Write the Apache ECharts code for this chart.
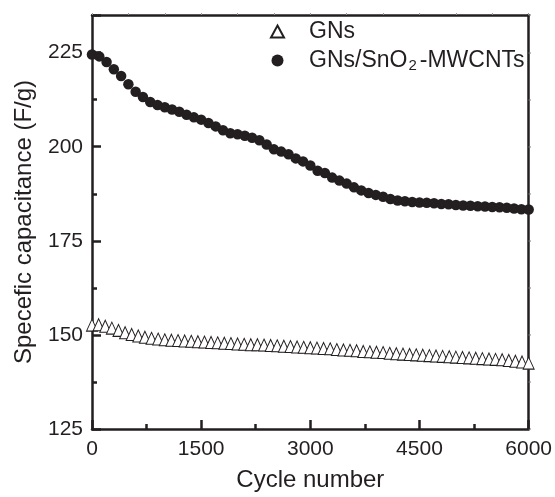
<!DOCTYPE html>
<html>
<head>
<meta charset="utf-8">
<script src="https://cdn.jsdelivr.net/npm/echarts@6/dist/echarts.min.js"></script>
<style>
  html, body { margin: 0; padding: 0; background: #fff; }
  #cycle_figure { width: 555px; height: 497px; }
</style>
</head>
<body>
<div id="cycle_figure"></div>
<script>
// cycle numbers for the composite (one point every 100 cycles)
var compCycles = [0, 100, 200, 300, 400, 500, 600, 700, 800, 900,
    1000, 1100, 1200, 1300, 1400, 1500, 1600, 1700, 1800, 1900,
    2000, 2100, 2200, 2300, 2400, 2500, 2600, 2700, 2800, 2900,
    3000, 3100, 3200, 3300, 3400, 3500, 3600, 3700, 3800, 3900,
    4000, 4100, 4200, 4300, 4400, 4500, 4600, 4700, 4800, 4900,
    5000, 5100, 5200, 5300, 5400, 5500, 5600, 5700, 5800, 5900, 6000];
var compValues = [224.5, 224.0, 222.5, 220.6, 218.8, 216.6, 214.6, 213.2, 211.9, 211.1,
    210.5, 209.9, 209.3, 208.5, 207.8, 207.2, 206.3, 205.4, 204.4, 203.6,
    203.3, 202.9, 202.4, 201.7, 200.6, 199.3, 198.7, 198.0, 196.9, 196.1,
    195.0, 193.6, 193.0, 191.8, 191.0, 190.2, 189.2, 188.4, 187.7, 187.2,
    186.7, 186.1, 185.7, 185.5, 185.3, 185.2, 185.1, 185.0, 184.8, 184.7,
    184.5, 184.4, 184.3, 184.2, 184.1, 184.0, 183.9, 183.8, 183.6, 183.4, 183.3];

// cycle numbers for GNs (a bit denser)
var gnsCycles = [0, 91, 182, 273, 364, 455, 545, 636, 727, 818, 909,
    1000, 1091, 1182, 1273, 1364, 1455, 1545, 1636, 1727, 1818, 1909,
    2000, 2091, 2182, 2273, 2364, 2455, 2545, 2636, 2727, 2818, 2909,
    3000, 3091, 3182, 3273, 3364, 3455, 3545, 3636, 3727, 3818, 3909,
    4000, 4091, 4182, 4273, 4364, 4455, 4545, 4636, 4727, 4818, 4909,
    5000, 5091, 5182, 5273, 5364, 5455, 5545, 5636, 5727, 5818, 5909, 6000];
var gnsValues = [152.6, 152.7, 152.3, 151.8, 151.2, 150.6, 150.1, 149.7, 149.4, 149.1, 148.9,
    148.7, 148.6, 148.5, 148.4, 148.3, 148.2, 148.1, 148.0, 147.9, 147.8, 147.7,
    147.6, 147.5, 147.4, 147.4, 147.3, 147.2, 147.1, 147.0, 146.9, 146.8, 146.7,
    146.6, 146.5, 146.4, 146.3, 146.1, 146.0, 145.9, 145.8, 145.6, 145.5, 145.4,
    145.3, 145.1, 145.0, 144.9, 144.8, 144.7, 144.6, 144.5, 144.4, 144.3, 144.2,
    144.1, 144.0, 143.9, 143.8, 143.7, 143.6, 143.5, 143.4, 143.2, 143.0, 142.8, 142.5];

var xTicks = [0, 1500, 3000, 4500, 6000];
var yTicks = [125, 150, 175, 200, 225];

var ink = '#231f20';
var font = 'Liberation Sans';

function pairs(xs, ys) {
    return xs.map(function (x, i) { return [x, ys[i]]; });
}

var cycle_figure = echarts.init(document.getElementById('cycle_figure'));

var option = {
    backgroundColor: '#fff',
    animation: false,
    grid: { left: 92, right: 17, top: 15, bottom: 63 },
    legend: {
        orient: 'vertical',
        left: 265,
        top: 15,
        itemWidth: 13,
        itemHeight: 12,
        itemGap: 6,
        data: [
            { name: 'GNs', icon: 'triangle' },
            { name: 'GNs/SnO2-MWCNTs', icon: 'circle' }
        ],
        formatter: function (name) {
            if (name === 'GNs') return '{h|GNs}';
            return '{h|GNs/SnO}{s|2}{t|-MWCNTs}';
        },
        textStyle: {
            color: ink,
            fontFamily: font,
            rich: {
                h: { fontSize: 23, fontFamily: font, color: ink, padding: [0, 0, 0, 20], lineHeight: 25 },
                t: { fontSize: 23, fontFamily: font, color: ink, lineHeight: 25 },
                s: { fontSize: 15, fontFamily: font, color: ink, verticalAlign: 'bottom', lineHeight: 13, padding: [0, 3, 0, 1] }
            }
        }
    },
    xAxis: [
        {
            type: 'value',
            min: 0,
            max: 6000,
            interval: 1500,
            name: 'Cycle number',
            nameLocation: 'middle',
            nameGap: 39,
            nameTextStyle: { fontSize: 24, fontFamily: font, color: ink },
            axisLine: { lineStyle: { color: ink, width: 2.5 } },
            axisTick: { inside: true, length: 9, lineStyle: { color: ink, width: 2.5 } },
            minorTick: { show: true, splitNumber: 2, length: 5, lineStyle: { color: ink, width: 2.5 } },
            axisLabel: {
                fontSize: 21, fontFamily: font, color: ink, margin: 10,
                formatter: function (v) { return xTicks.indexOf(v) >= 0 ? String(v) : ''; }
            },
            splitLine: { show: false }
        },
        {
            type: 'value',
            position: 'top',
            min: 0,
            max: 6000,
            interval: 500,
            axisLine: { onZero: false, lineStyle: { color: ink, width: 2.5 } },
            axisTick: { inside: false, length: 2, lineStyle: { color: '#999', width: 1 } },
            axisLabel: { show: false },
            splitLine: { show: false }
        }
    ],
    yAxis: [
        {
            type: 'value',
            min: 125,
            max: 235,
            interval: 25,
            name: 'Specefic capacitance (F/g)',
            nameLocation: 'middle',
            nameGap: 56,
            nameTextStyle: { fontSize: 24, fontFamily: font, color: ink },
            axisLine: { lineStyle: { color: ink, width: 2.5 } },
            axisTick: { inside: true, length: 9, lineStyle: { color: ink, width: 2.5 } },
            minorTick: { show: true, splitNumber: 2, length: 5, lineStyle: { color: ink, width: 2.5 } },
            axisLabel: {
                fontSize: 21, fontFamily: font, color: ink, margin: 9, showMaxLabel: false,
                formatter: function (v) { return yTicks.indexOf(v) >= 0 ? String(v) : ''; }
            },
            splitLine: { show: false }
        },
        {
            type: 'value',
            position: 'right',
            min: 125,
            max: 235,
            interval: 12.5,
            axisLine: { onZero: false, lineStyle: { color: ink, width: 2.5 } },
            axisTick: { inside: false, length: 2, lineStyle: { color: '#777', width: 1.5 } },
            axisLabel: { show: false },
            splitLine: { show: false }
        }
    ],
    series: [
        {
            name: 'GNs',
            type: 'scatter',
            symbol: 'triangle',
            symbolSize: [11, 12],
            itemStyle: { color: '#fff', borderColor: ink, borderWidth: 1, opacity: 1 },
            data: pairs(gnsCycles, gnsValues)
        },
        {
            name: 'GNs/SnO2-MWCNTs',
            type: 'scatter',
            symbol: 'circle',
            symbolSize: 10.5,
            itemStyle: { color: ink, opacity: 1 },
            data: pairs(compCycles, compValues)
        }
    ]
};

cycle_figure.setOption(option);
</script>
</body>
</html>
